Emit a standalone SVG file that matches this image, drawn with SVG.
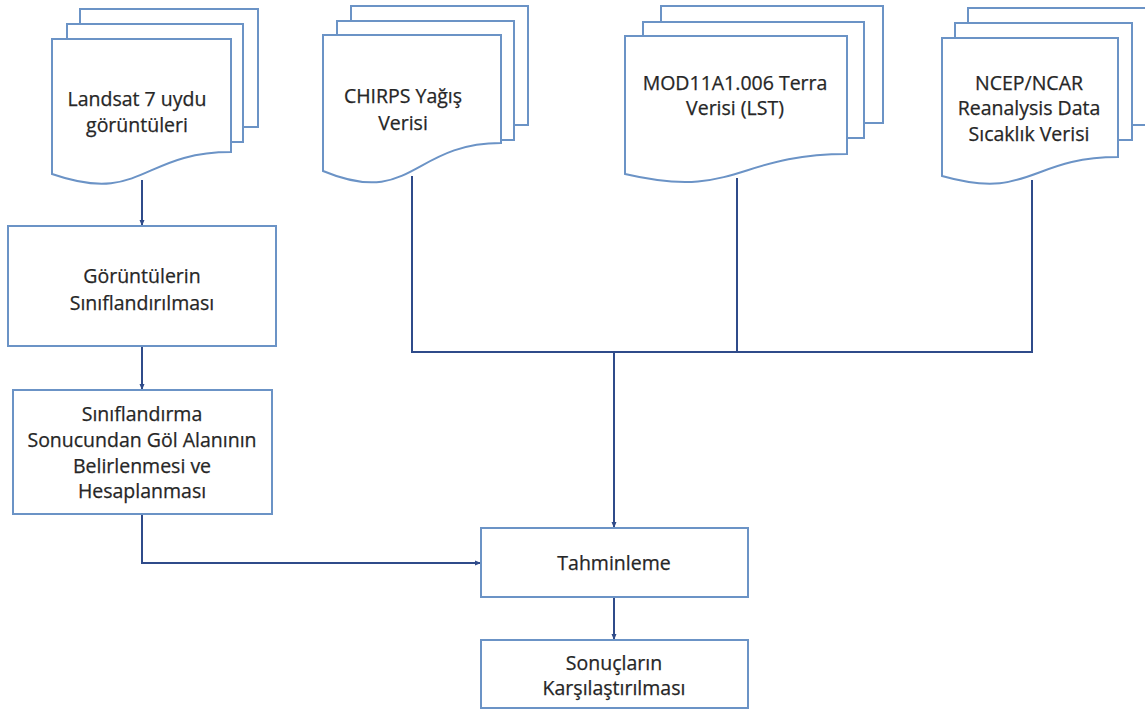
<svg xmlns="http://www.w3.org/2000/svg" width="1145" height="711" viewBox="0 0 1145 711">
<style>
.pg{fill:#fff;stroke:#6b93c6;stroke-width:2}
.bx{fill:#fff;stroke:#6b93c6;stroke-width:2}
.t{font-family:"Open Sans","Liberation Sans",sans-serif;font-size:19.5px;fill:#262626;stroke:#262626;stroke-width:0.25;text-anchor:middle;dominant-baseline:central}
.c{fill:none;stroke:#2f4b8a;stroke-width:2}
</style>
<defs>
<marker id="ah" markerWidth="6" markerHeight="6" refX="5" refY="3" orient="auto" markerUnits="userSpaceOnUse">
<path d="M0,0.5 L6,3 L0,5.5 Z" fill="#2f4b8a"/>
</marker>
</defs>
<rect width="1145" height="711" fill="#fff"/>
<g id="connectors">
<path class="c" d="M142,180 V225" marker-end="url(#ah)"/>
<path class="c" d="M142,346 V389" marker-end="url(#ah)"/>
<path class="c" d="M412,176 V352 H1032 V180"/>
<path class="c" d="M737,178 V352"/>
<path class="c" d="M614,352 V527" stroke-width="3" stroke="#253f7d" marker-end="url(#ah)"/>
<path class="c" d="M142,514 V563 H480" marker-end="url(#ah)"/>
<path class="c" d="M614,597 V639" marker-end="url(#ah)"/>
</g>
<g id="landsat">
<rect class="pg" x="80" y="9" width="178" height="118"/>
<rect class="pg" x="67" y="24" width="176" height="118"/>
<path class="pg" d="M52,39 H231 V152 C141.5,152 141.5,205 52,174 Z"/>
<text class="t" x="137" y="98">Landsat 7 uydu</text>
<text class="t" x="137" y="124">görüntüleri</text>
</g>
<g id="chirps">
<rect class="pg" x="351" y="6" width="177" height="119"/>
<rect class="pg" x="337" y="21" width="177" height="119"/>
<path class="pg" d="M323,35 H501 V143 C412,143 412,208 323,171 Z"/>
<text class="t" x="403" y="95">CHIRPS Yağış</text>
<text class="t" x="403" y="122">Verisi</text>
</g>
<g id="mod11">
<rect class="pg" x="661" y="6" width="222" height="117"/>
<rect class="pg" x="643" y="22" width="221" height="116"/>
<path class="pg" d="M625,36 H847 V154 C736,154 736,200 625,174 Z"/>
<text class="t" x="735" y="82">MOD11A1.006 Terra</text>
<text class="t" x="735" y="107">Verisi (LST)</text>
</g>
<g id="ncep">
<rect class="pg" x="968" y="8" width="185" height="117"/>
<rect class="pg" x="955" y="23" width="177" height="117"/>
<path class="pg" d="M942,38 H1118 V157 C1030,157 1030,201 942,176 Z"/>
<text class="t" x="1029" y="82">NCEP/NCAR</text>
<text class="t" x="1029" y="107">Reanalysis Data</text>
<text class="t" x="1029" y="133">Sıcaklık Verisi</text>
</g>
<g id="siniflandirma">
<rect class="bx" x="8" y="226" width="268" height="120"/>
<text class="t" x="142" y="275">Görüntülerin</text>
<text class="t" x="142" y="302">Sınıflandırılması</text>
</g>
<g id="gol-alani">
<rect class="bx" x="13" y="390" width="259" height="124"/>
<text class="t" x="142" y="413">Sınıflandırma</text>
<text class="t" x="142" y="439">Sonucundan Göl Alanının</text>
<text class="t" x="142" y="465">Belirlenmesi ve</text>
<text class="t" x="142" y="490">Hesaplanması</text>
</g>
<g id="tahminleme">
<rect class="bx" x="481" y="528" width="267" height="69"/>
<text class="t" x="614" y="562">Tahminleme</text>
</g>
<g id="sonuclar">
<rect class="bx" x="481" y="640" width="267" height="68"/>
<text class="t" x="614" y="662">Sonuçların</text>
<text class="t" x="614" y="687">Karşılaştırılması</text>
</g>
</svg>
